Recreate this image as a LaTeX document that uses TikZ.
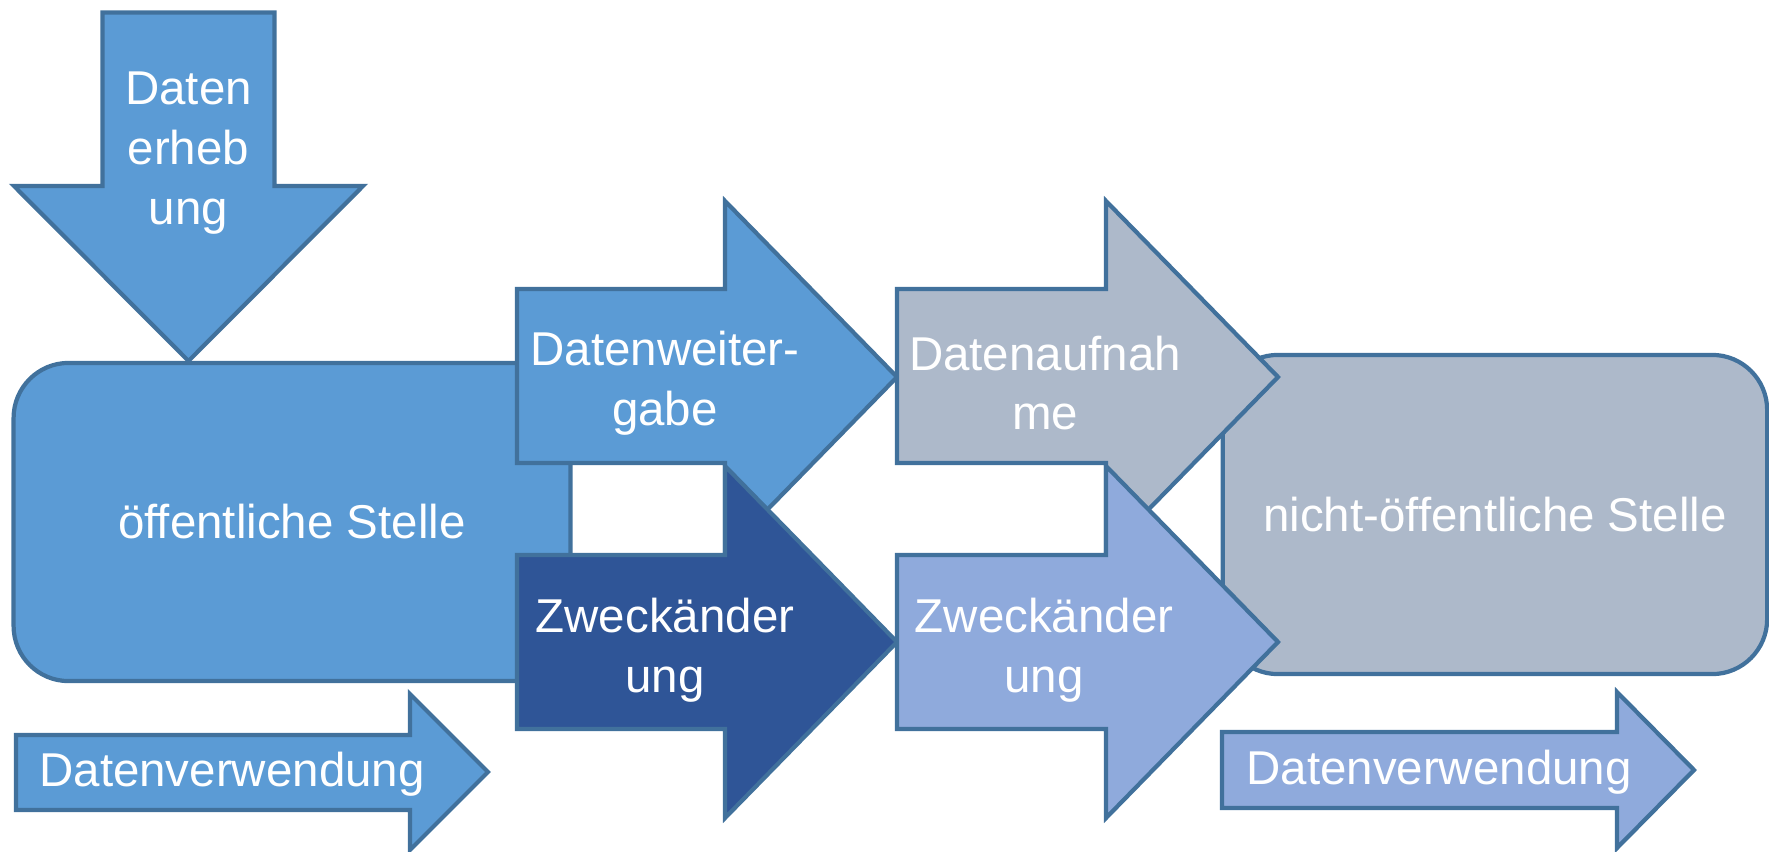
\documentclass[tikz,border=0pt]{standalone}
\usepackage{fontspec}
\setmainfont{Liberation Sans}
\usepackage{tikz}
\usetikzlibrary{positioning}
\definecolor{mblue}{HTML}{5B9BD5}
\definecolor{dblue}{HTML}{2F5597}
\definecolor{lblue}{HTML}{8FAADC}
\definecolor{grau}{HTML}{ADB9CA}
\definecolor{rand}{HTML}{41719C}
\tikzstyle{stelle}=[draw=rand,line width=1.2pt,rounded corners=0.55cm,align=center,text=white,font=\fontsize{13.5}{16.5}\selectfont]
\tikzstyle{pfeil}=[draw=rand,line width=1.2pt,line join=miter]
\tikzstyle{txt}=[align=center,text=white,inner sep=0,font=\fontsize{13.5}{17}\selectfont]

\begin{document}
\begin{tikzpicture}[x=0.01cm,y=-0.01cm]
\useasboundingbox (0,0) rectangle (1769,851);

	% % % Stellen
	\node[stelle,fill=mblue,minimum width=5.565cm,minimum height=3.18cm] (oeff) at (292,522) {öffentliche Stelle};
	\node[stelle,fill=grau,minimum width=5.44cm,minimum height=3.19cm] (nichtoeff) at (1495,514.5) {nicht-öffentliche Stelle};

	% % % Erhebung
	\path[pfeil,fill=mblue] (102.5,12.5) -- (274.5,12.5) -- (274.5,186) -- (363,186) -- (188.5,361) -- (14,186) -- (102.5,186) -- cycle;
	\node[txt] (erheb) at (188.5,153) {Daten\\erheb\\ung};

	% % % Weitergabe und Zweckaenderung
	\path[pfeil,fill=mblue] (517,289) -- (725,289) -- (725,201) -- (897,377) -- (725,553) -- (725,463) -- (517,463) -- cycle;
	\node[txt] (weiter) at (665,383) {Datenweiter-\\gabe};

	\path[pfeil,fill=dblue] (517,555) -- (725,555) -- (725,466) -- (897,642) -- (725,818) -- (725,729) -- (517,729) -- cycle;
	\node[txt] (zweck1) at (665,650) {Zweckänder\\ung};

	\path[pfeil,fill=grau] (897,289) -- (1106,289) -- (1106,201) -- (1278,377) -- (1106,553) -- (1106,463) -- (897,463) -- cycle;
	\node[txt] (aufn) at (1045,383) {Datenaufnah\\me};

	\path[pfeil,fill=lblue] (897,555) -- (1106,555) -- (1106,466) -- (1278,642) -- (1106,818) -- (1106,729) -- (897,729) -- cycle;
	\node[txt] (zweck2) at (1044,650) {Zweckänder\\ung};

	% % % Verwendung
	\path[pfeil,fill=mblue] (16,735) -- (410,735) -- (410,694) -- (488,772) -- (410,850) -- (410,810) -- (16,810) -- cycle;
	\node[txt] (verw1) at (232,774) {Datenverwendung};

	\path[pfeil,fill=lblue] (1222,732) -- (1617,732) -- (1617,692) -- (1694,770) -- (1617,848) -- (1617,808) -- (1222,808) -- cycle;
	\node[txt] (verw2) at (1439,772) {Datenverwendung};
\end{tikzpicture}
\end{document}
